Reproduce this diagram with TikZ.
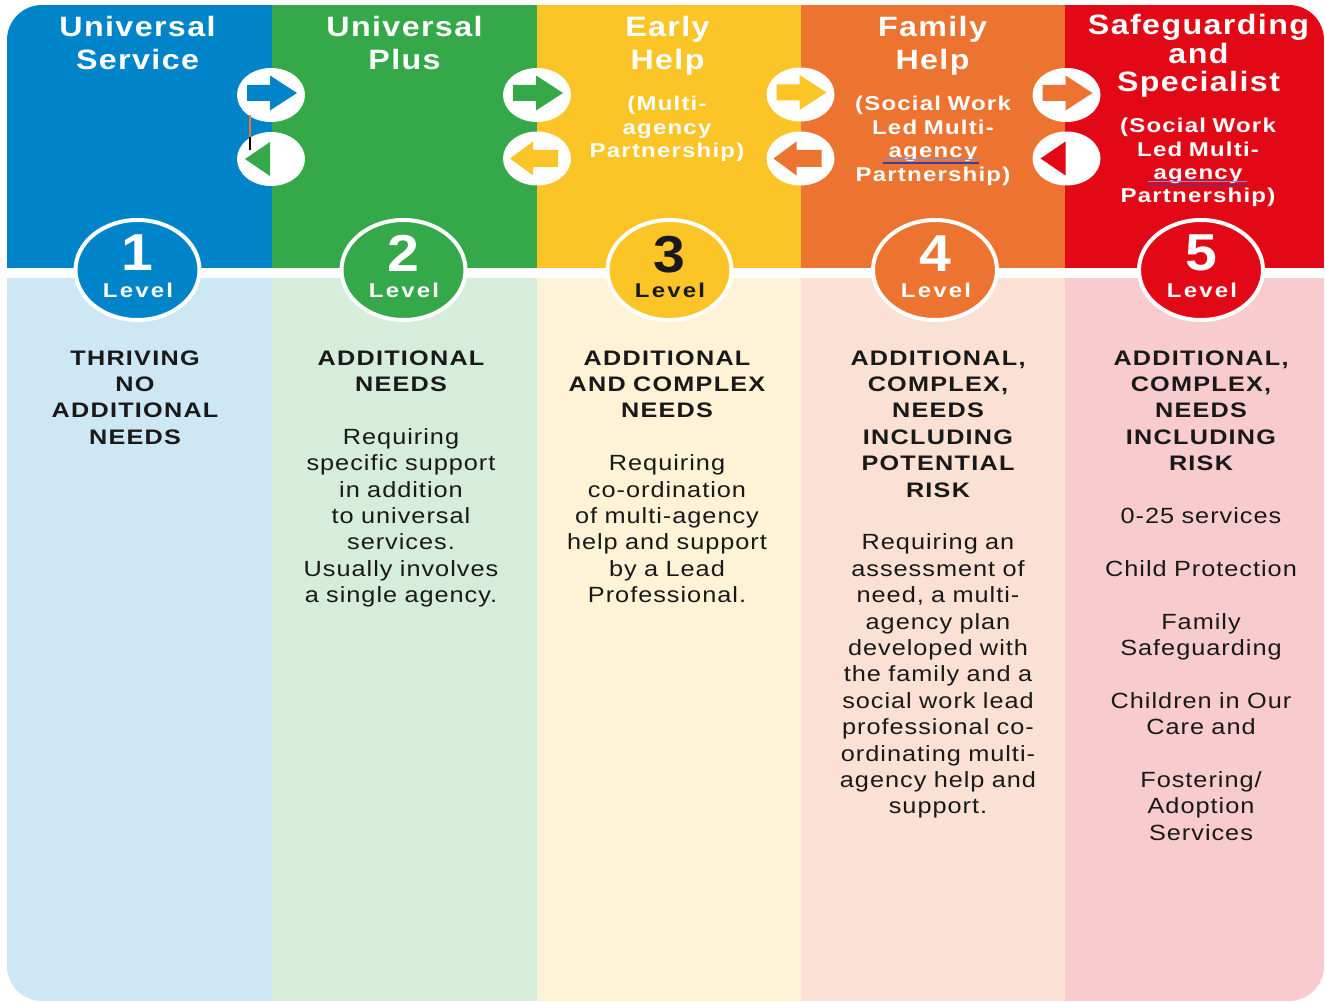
\documentclass[tikz,border=0pt]{standalone}
\usepackage{fontspec}
\setmainfont{Liberation Sans}
\newfontfamily\HeadF[FakeStretch=1.15, LetterSpace=5]{Liberation Sans}
\newfontfamily\SubF[FakeStretch=1.2, LetterSpace=6]{Liberation Sans}
\newfontfamily\BodyHF[FakeStretch=1.2, LetterSpace=6]{Liberation Sans}
\newfontfamily\BodyF[FakeStretch=1.15, LetterSpace=4.5]{Liberation Sans}
\newfontfamily\LvlF[FakeStretch=1.2, LetterSpace=11]{Liberation Sans}
\newfontfamily\NumF[FakeStretch=1.1]{Liberation Sans}
\usetikzlibrary{shapes.geometric}
\definecolor{cBlue}{RGB}{0,132,201}
\definecolor{cGreen}{RGB}{53,168,74}
\definecolor{cYellow}{RGB}{251,197,40}
\definecolor{cOrange}{RGB}{237,115,49}
\definecolor{cRed}{RGB}{227,8,22}
\definecolor{lBlue}{RGB}{205,231,245}
\definecolor{lGreen}{RGB}{214,237,220}
\definecolor{lYellow}{RGB}{254,243,214}
\definecolor{lOrange}{RGB}{251,225,211}
\definecolor{lRed}{RGB}{248,203,206}
\definecolor{txt}{RGB}{25,25,25}
\definecolor{ulA}{RGB}{110,150,235}
\definecolor{ulB}{RGB}{60,60,170}
\begin{document}
\begin{tikzpicture}[x=1pt,y=-1pt,
  tophead/.style={anchor=base, text width=270pt, align=center, text=white,
    font=\HeadF\bfseries\fontsize{28}{33}\selectfont},
  tophead5/.style={tophead, font=\HeadF\bfseries\fontsize{28}{28.5}\selectfont},
  subhead/.style={anchor=base, text width=260pt, align=center, text=white,
    font=\SubF\bfseries\fontsize{20}{23.5}\selectfont},
  subhead5/.style={subhead, font=\SubF\bfseries\fontsize{20}{23.3}\selectfont},
  bodyblk/.style={anchor=base, text width=262pt, align=center, text=txt,
    font=\BodyF\fontsize{22}{26.4}\selectfont},
  lvlring/.style={ellipse, draw=white, line width=4pt, minimum width=124pt, minimum height=100pt, inner sep=0pt},
  lvlnum/.style={anchor=base, text=white, inner sep=0pt, font=\NumF\bfseries\fontsize{52}{52}\selectfont},
  lvlword/.style={anchor=base, text=white, inner sep=0pt, font=\LvlF\bfseries\fontsize{20}{20}\selectfont},
  arrbg/.style={ellipse, fill=white, minimum width=68pt, minimum height=54pt, inner sep=0pt},
  ulineA/.style={draw=ulA, line width=1pt},
  ulineB/.style={draw=ulB, line width=1.2pt},
  rarr/.pic={\fill (-24,-10) -- (-1,-10) -- (-1,-19.5) -- (26,-2) -- (-1,15.5) -- (-1,6) -- (-24,6) -- cycle;},
  larr/.pic={\fill (21,-8.5) -- (-4,-8.5) -- (-4,-17) -- (-27,0) -- (-4,17) -- (-4,8.5) -- (21,8.5) -- cycle;},
  ltri/.pic={\fill (-26,0) -- (-1,-17) -- (-1,17) -- cycle;}
]
\useasboundingbox (0,0) rectangle (1325,1003);
\fill[white] (0,0) rectangle (1325,1003);
% columns
\begin{scope}
\clip[rounded corners=35pt] (7,5) rectangle (1324,1001);
\fill[cBlue]   (7,5)    rectangle (272,268);
\fill[cGreen]  (272,5)  rectangle (537,268);
\fill[cYellow] (537,5)  rectangle (801,268);
\fill[cOrange] (801,5)  rectangle (1065,268);
\fill[cRed]    (1065,5) rectangle (1324,268);
\fill[lBlue]   (7,278)    rectangle (272,1001);
\fill[lGreen]  (272,278)  rectangle (537,1001);
\fill[lYellow] (537,278)  rectangle (801,1001);
\fill[lOrange] (801,278)  rectangle (1065,1001);
\fill[lRed]    (1065,278) rectangle (1324,1001);
\end{scope}
% arrow ellipses
\node[arrbg] (a1t) at (271,95) {};
\node[arrbg] (a1b) at (271,159) {};
\node[arrbg] (a2t) at (537,95) {};
\node[arrbg] (a2b) at (537,158.5) {};
\node[arrbg] (a3t) at (800.5,94.5) {};
\node[arrbg] (a3b) at (800.5,158.5) {};
\node[arrbg] (a4t) at (1066.5,95) {};
\node[arrbg] (a4b) at (1066.5,158.5) {};
\pic[color=cBlue]   at (a1t) {rarr};
\pic[color=cGreen]  at (a1b) {ltri};
\pic[color=cGreen]  at (a2t) {rarr};
\pic[color=cYellow] at (a2b) {larr};
\pic[color=cYellow] at (a3t) {rarr};
\pic[color=cOrange] at (a3b) {larr};
\pic[color=cOrange] at (a4t) {rarr};
\pic[color=cRed]    at (a4b) {ltri};
\draw[cOrange, line width=1.5pt] (250,115) -- (250,137);
\draw[black, line width=1.5pt] (250,137) -- (250,150);
% top headings
\node[tophead] (h1) at (137.5,37) {Universal\\Service};
\node[tophead] (h2) at (404.5,37) {Universal\\Plus};
\node[tophead] (h3) at (667.5,37) {Early\\Help};
\node[tophead] (h4) at (932.5,37) {Family\\Help};
\node[tophead5] (h5) at (1198.5,35) {Safeguarding\\and\\Specialist};
\node[subhead] (s3) at (667,111) {(Multi-\\agency\\Partnership)};
\node[subhead] (s4) at (933,111) {(Social Work\\Led Multi-\\agency\\Partnership)};
\node[subhead5] (s5) at (1198,133) {(Social Work\\Led Multi-\\agency\\Partnership)};
\draw[ulineA] (883,160) -- (979,160);
\draw[ulineB] (883,163) -- (979,163);
\draw[ulineA] (1148,182) -- (1247,182);
\draw[ulineB] (1148,184.5) -- (1247,184.5);
% level rings
\node[lvlring, fill=cBlue]   (c1) at (137.5,270) {};
\node[lvlring, fill=cGreen]  (c2) at (403.5,270) {};
\node[lvlring, fill=cYellow] (c3) at (669.5,270) {};
\node[lvlring, fill=cOrange] (c4) at (935,270) {};
\node[lvlring, fill=cRed]    (c5) at (1201,270) {};
\node[lvlnum] (n1) at (137,270) {1};
\node[lvlnum] (n2) at (403,271) {2};
\node[lvlnum, text=txt] (n3) at (669,272) {3};
\node[lvlnum] (n4) at (935,271) {4};
\node[lvlnum] (n5) at (1201,270) {5};
\node[lvlword] (w1) at (138,297) {Level};
\node[lvlword] (w2) at (404,297) {Level};
\node[lvlword, text=txt] (w3) at (670,297) {Level};
\node[lvlword] (w4) at (936,297) {Level};
\node[lvlword] (w5) at (1202,297) {Level};
% body texts
\node[bodyblk] (b1) at (135,365) {{\BodyHF\bfseries\fontsize{21}{26.4}\selectfont THRIVING\\NO\\ADDITIONAL\\NEEDS}};
\node[bodyblk] (b2) at (401,365) {{\BodyHF\bfseries\fontsize{21}{26.4}\selectfont ADDITIONAL\\NEEDS}\\[26.4pt]
Requiring\\specific support\\in addition\\to universal\\services.\\Usually involves\\a single agency.};
\node[bodyblk] (b3) at (667,365) {{\BodyHF\bfseries\fontsize{21}{26.4}\selectfont ADDITIONAL\\AND COMPLEX\\NEEDS}\\[26.4pt]
Requiring\\co-ordination\\of multi-agency\\help and support\\by a Lead\\Professional.};
\node[bodyblk] (b4) at (938,365) {{\BodyHF\bfseries\fontsize{21}{26.4}\selectfont ADDITIONAL,\\COMPLEX,\\NEEDS\\INCLUDING\\POTENTIAL\\RISK}\\[26.4pt]
Requiring an\\assessment of\\need, a multi-\\agency plan\\developed with\\the family and a\\social work lead\\professional co-\\ordinating multi-\\agency help and\\support.};
\node[bodyblk] (b5) at (1201,365) {{\BodyHF\bfseries\fontsize{21}{26.4}\selectfont ADDITIONAL,\\COMPLEX,\\NEEDS\\INCLUDING\\RISK}\\[26.4pt]
0-25 services\\[26.4pt]Child Protection\\[26.4pt]Family\\Safeguarding\\[26.4pt]Children in Our\\Care and\\[26.4pt]Fostering/\\Adoption\\Services};
\end{tikzpicture}
\end{document}
